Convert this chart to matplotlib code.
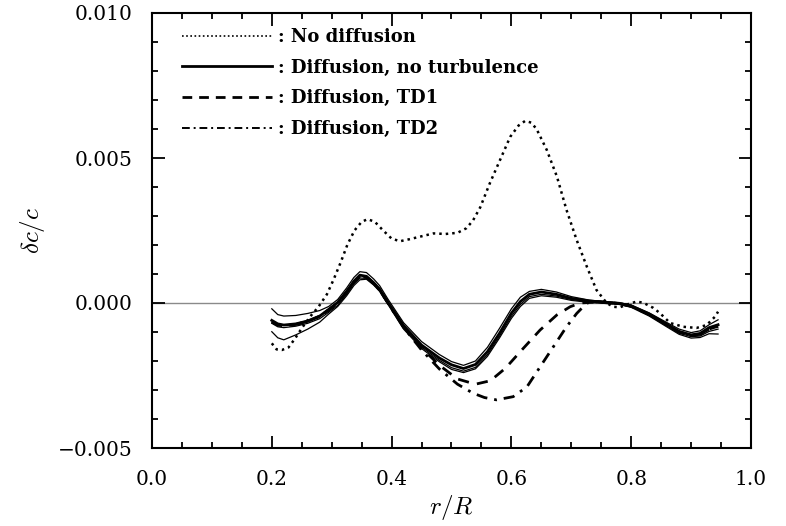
import numpy as np
import matplotlib
matplotlib.use("Agg")
import matplotlib.pyplot as plt
from matplotlib.ticker import MultipleLocator, FuncFormatter

# ---------------- data ----------------
r_nodiff = [0.200, 0.208, 0.217, 0.228, 0.239, 0.250, 0.264, 0.278, 0.292, 0.303,
            0.315, 0.326, 0.338, 0.350, 0.360, 0.372, 0.385, 0.400, 0.414, 0.430,
            0.450, 0.470, 0.490, 0.510, 0.525, 0.536, 0.548, 0.564, 0.581, 0.598,
            0.612, 0.623, 0.633, 0.642, 0.659, 0.676, 0.692, 0.709, 0.726, 0.742,
            0.759, 0.770, 0.781, 0.795, 0.809, 0.820, 0.837, 0.848, 0.865, 0.887,
            0.909, 0.926, 0.940, 0.945]
dc_nodiff = [-0.00139, -0.00160, -0.00162, -0.00153, -0.00122, -0.00087, -0.00047, -0.00013, 0.00030, 0.00080,
             0.00140, 0.00200, 0.00250, 0.00280, 0.00289, 0.00280, 0.00252, 0.00222, 0.00213, 0.00220,
             0.00230, 0.00240, 0.00238, 0.00242, 0.00258, 0.00285, 0.00330, 0.00413, 0.00493, 0.00573,
             0.00612, 0.00628, 0.00622, 0.00600, 0.00528, 0.00436, 0.00321, 0.00217, 0.00125, 0.00045,
             0.00000, -0.00013, -0.00015, -0.00004, 0.00005, 0.00001, -0.00017, -0.00035, -0.00069, -0.00082,
             -0.00086, -0.00076, -0.00047, -0.00030]

r_solid = [0.200, 0.210, 0.220, 0.240, 0.260, 0.280, 0.295, 0.310, 0.325, 0.337,
           0.347, 0.358, 0.370, 0.380, 0.394, 0.420, 0.450, 0.480, 0.500, 0.520,
           0.540, 0.560, 0.580, 0.600, 0.615, 0.630, 0.650, 0.675, 0.700, 0.730,
           0.760, 0.780, 0.800, 0.830, 0.860, 0.880, 0.900, 0.915, 0.930, 0.945]
dc_solid_a = [-0.00020, -0.00040, -0.00045, -0.00043, -0.00036, -0.00026, -0.00012, 0.00012, 0.00052, 0.00088,
              0.00108, 0.00105, 0.00083, 0.00060, 0.00013, -0.00068, -0.00133, -0.00178, -0.00202, -0.00215,
              -0.00200, -0.00153, -0.00088, -0.00020, 0.00020, 0.00040, 0.00047, 0.00038, 0.00022, 0.00010,
              0.00004, 0.00001, -0.00007, -0.00034, -0.00068, -0.00090, -0.00102, -0.00096, -0.00075, -0.00058]
dc_solid_b = [-0.00060, -0.00072, -0.00076, -0.00072, -0.00062, -0.00045, -0.00022, 0.00002, 0.00040, 0.00075,
              0.00096, 0.00092, 0.00070, 0.00048, 0.00002, -0.00078, -0.00145, -0.00190, -0.00213, -0.00226,
              -0.00212, -0.00168, -0.00105, -0.00035, 0.00005, 0.00030, 0.00038, 0.00030, 0.00016, 0.00007,
              0.00002, -0.00001, -0.00010, -0.00038, -0.00074, -0.00098, -0.00110, -0.00105, -0.00085, -0.00075]
dc_solid_c = [-0.00070, -0.00082, -0.00085, -0.00080, -0.00070, -0.00054, -0.00032, -0.00008, 0.00030, 0.00066,
              0.00086, 0.00085, 0.00064, 0.00042, -0.00003, -0.00085, -0.00152, -0.00198, -0.00223, -0.00235,
              -0.00222, -0.00178, -0.00115, -0.00046, -0.00005, 0.00022, 0.00030, 0.00024, 0.00012, 0.00004,
              0.00000, -0.00003, -0.00013, -0.00042, -0.00080, -0.00104, -0.00116, -0.00114, -0.00098, -0.00090]
dc_solid_d = [-0.00099, -0.00120, -0.00127, -0.00110, -0.00090, -0.00066, -0.00038, -0.00012, 0.00025, 0.00060,
              0.00080, 0.00082, 0.00062, 0.00040, -0.00005, -0.00090, -0.00157, -0.00203, -0.00229, -0.00240,
              -0.00227, -0.00184, -0.00121, -0.00053, -0.00012, 0.00016, 0.00025, 0.00020, 0.00009, 0.00002,
              -0.00002, -0.00005, -0.00015, -0.00045, -0.00083, -0.00108, -0.00121, -0.00119, -0.00106, -0.00107]

r_td1 = [0.200, 0.210, 0.220, 0.240, 0.260, 0.280, 0.295, 0.310, 0.325, 0.337,
         0.347, 0.358, 0.370, 0.380, 0.394, 0.420, 0.450, 0.480, 0.510, 0.540,
         0.565, 0.590, 0.620, 0.648, 0.676, 0.698, 0.715, 0.740, 0.760, 0.780,
         0.800, 0.830, 0.860, 0.880, 0.900, 0.915, 0.930, 0.945]
dc_td1 = [-0.00065, -0.00076, -0.00078, -0.00074, -0.00063, -0.00046, -0.00024, 0.00000, 0.00038, 0.00072,
          0.00093, 0.00090, 0.00068, 0.00045, 0.00000, -0.00082, -0.00155, -0.00215, -0.00262, -0.00280,
          -0.00268, -0.00225, -0.00156, -0.00093, -0.00041, -0.00013, 0.00000, 0.00003, 0.00001, -0.00002,
          -0.00011, -0.00040, -0.00076, -0.00100, -0.00112, -0.00108, -0.00090, -0.00080]

r_td2 = [0.200, 0.210, 0.220, 0.240, 0.260, 0.280, 0.295, 0.310, 0.325, 0.337,
         0.347, 0.358, 0.370, 0.380, 0.394, 0.420, 0.450, 0.480, 0.510, 0.536,
         0.555, 0.575, 0.603, 0.626, 0.648, 0.670, 0.692, 0.709, 0.726, 0.745,
         0.760, 0.780, 0.800, 0.830, 0.860, 0.880, 0.900, 0.915, 0.930, 0.945]
dc_td2 = [-0.00065, -0.00076, -0.00078, -0.00074, -0.00063, -0.00046, -0.00024, 0.00000, 0.00038, 0.00072,
          0.00093, 0.00090, 0.00068, 0.00045, 0.00000, -0.00084, -0.00162, -0.00228, -0.00280, -0.00311,
          -0.00326, -0.00334, -0.00323, -0.00289, -0.00220, -0.00151, -0.00082, -0.00036, 0.00000, 0.00005,
          0.00002, -0.00002, -0.00011, -0.00040, -0.00076, -0.00100, -0.00112, -0.00108, -0.00090, -0.00080]

labels = [": No diffusion", ": Diffusion, no turbulence", ": Diffusion, TD1", ": Diffusion, TD2"]

# ---------------- figure ----------------
plt.rcParams['mathtext.fontset'] = 'cm'
fig = plt.figure(figsize=(7.86, 5.26), dpi=100)
ax = fig.add_axes([152/786, 78/526, 599/786, 435/526])

ax.axhline(0.0, color='#8a8a8a', lw=1.0, zorder=1)

l1, = ax.plot(r_nodiff, dc_nodiff, color='black', lw=1.8, linestyle=(0, (1, 1.6)))
ax.plot(r_solid, dc_solid_a, color='black', lw=0.9)
l2, = ax.plot(r_solid, dc_solid_b, color='black', lw=2.0)
ax.plot(r_solid, dc_solid_c, color='black', lw=0.9)
ax.plot(r_solid, dc_solid_d, color='black', lw=0.9)
l3, = ax.plot(r_td1, dc_td1, color='black', lw=2.0, linestyle=(0, (4, 3)))
l4, = ax.plot(r_td2, dc_td2, color='black', lw=2.0, linestyle=(0, (4, 2.5, 1, 2.5)))

ax.set_xlim(0.0, 1.0)
ax.set_ylim(-0.005, 0.010)

ax.xaxis.set_major_locator(MultipleLocator(0.2))
ax.xaxis.set_minor_locator(MultipleLocator(0.05))
ax.yaxis.set_major_locator(MultipleLocator(0.005))
ax.yaxis.set_minor_locator(MultipleLocator(0.001))
ax.xaxis.set_major_formatter(FuncFormatter(lambda v, p: f"{v:.1f}".replace('-', '\u2212')))
ax.yaxis.set_major_formatter(FuncFormatter(lambda v, p: ("%.3f" % (0.0 if abs(v) < 1e-12 else v)).replace('-', '\u2212')))

ax.tick_params(which='both', direction='in', top=True, right=True, width=1.3, colors='black')
ax.tick_params(which='major', length=9)
ax.tick_params(which='minor', length=4.5)
ax.tick_params(axis='x', which='major', pad=16)
ax.tick_params(axis='y', which='major', pad=14)
for lab in ax.get_xticklabels() + ax.get_yticklabels():
    lab.set_fontfamily('DejaVu Serif')
    lab.set_fontsize(14.5)
for sp in ax.spines.values():
    sp.set_linewidth(1.5)

ax.set_xlabel(r'$r/R$', fontsize=18, labelpad=3)
ax.set_ylabel(r'$\delta c/c$', fontsize=18, labelpad=8)

h1 = plt.Line2D([], [], color='black', lw=1.2, linestyle=(0, (1, 1.5)))
h2 = plt.Line2D([], [], color='black', lw=2.0)
h3 = plt.Line2D([], [], color='black', lw=2.0, linestyle=(0, (3.5, 2.5)))
h4 = plt.Line2D([], [], color='black', lw=1.4, linestyle=(0, (4, 2, 1, 2)))
leg = ax.legend([h1, h2, h3, h4], labels, loc='upper left',
                bbox_to_anchor=(30/599, 1 - 15/435), frameon=False,
                borderaxespad=0, borderpad=0, handlelength=5.0, handletextpad=0.3,
                labelspacing=0.7, prop={'family': 'DejaVu Serif', 'weight': 'bold', 'size': 13})

fig.savefig('out.png', dpi=100)
